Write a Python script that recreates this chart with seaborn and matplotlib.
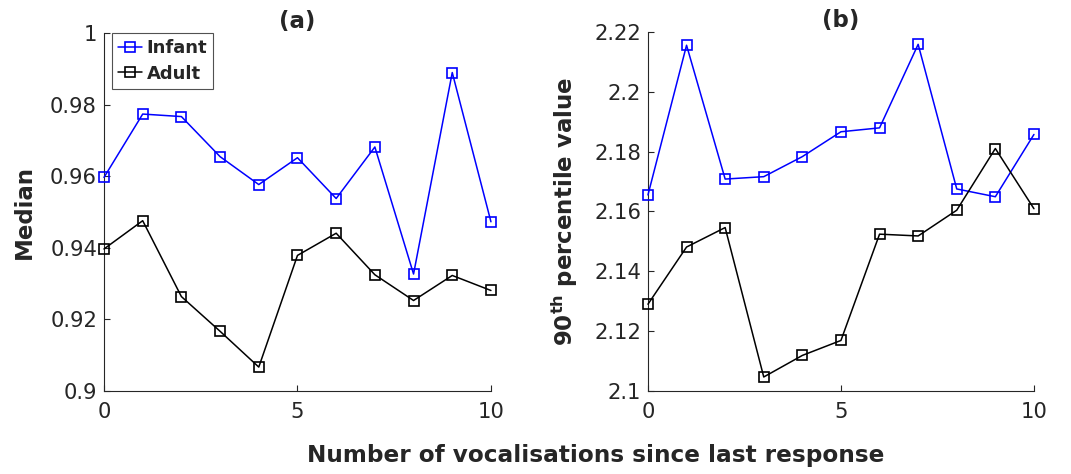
import matplotlib
matplotlib.use("Agg")
import matplotlib.pyplot as plt
import seaborn as sns
import pandas as pd

x_vals = [0, 1, 2, 3, 4, 5, 6, 7, 8, 9, 10]
median_infant = [0.9597, 0.9774, 0.9767, 0.9655, 0.9577, 0.9652, 0.9538, 0.9682, 0.9327, 0.9890, 0.9473]
median_adult = [0.9397, 0.9476, 0.9264, 0.9167, 0.9067, 0.9379, 0.9441, 0.9325, 0.9253, 0.9323, 0.9281]
p90_infant = [2.1655, 2.2155, 2.1708, 2.1716, 2.1783, 2.1866, 2.1879, 2.2158, 2.1675, 2.1649, 2.1857]
p90_adult = [2.1290, 2.1481, 2.1546, 2.1047, 2.1119, 2.1169, 2.1524, 2.1518, 2.1604, 2.1810, 2.1609]

series_names = ["Infant", "Adult"]
series_colors = ["#0000ff", "#000000"]

a_yticks = [0.9, 0.92, 0.94, 0.96, 0.98, 1.0]
a_ylabels = ["0.9", "0.92", "0.94", "0.96", "0.98", "1"]
b_yticks = [2.1, 2.12, 2.14, 2.16, 2.18, 2.2, 2.22]
b_ylabels = ["2.1", "2.12", "2.14", "2.16", "2.18", "2.2", "2.22"]
xticks = [0, 5, 10]

sns.set_style("white")
plt.rcParams["font.family"] = ["DejaVu Sans"]
plt.rcParams["mathtext.fontset"] = "dejavusans"

fig = plt.figure(figsize=(10.71, 4.74), dpi=100)
axA = fig.add_axes([0.0971, 0.175, 0.3613, 0.755])
axB = fig.add_axes([0.605, 0.175, 0.3604, 0.758])

axis_color = "#262626"

def draw(ax, infant, adult, yticks, ylabels, ylabel, title, legend):
    df = pd.DataFrame({"x": x_vals * 2,
                       "y": infant + adult,
                       "group": [series_names[0]] * len(x_vals) + [series_names[1]] * len(x_vals)})
    for name, col in zip(series_names, series_colors):
        sub = df[df["group"] == name]
        sns.lineplot(data=sub, x="x", y="y", ax=ax, color=col, marker="s",
                     markersize=7.3, markerfacecolor="none", markeredgecolor=col,
                     markeredgewidth=1.2, linewidth=1.1, label=name, legend=legend,
                     clip_on=False, zorder=3)
    ax.set_xlim(0, 10)
    ax.set_ylim(yticks[0], yticks[-1])
    ax.set_xticks(xticks)
    ax.set_xticklabels([str(t) for t in xticks])
    ax.set_yticks(yticks)
    ax.set_yticklabels(ylabels)
    ax.tick_params(direction="in", length=4, width=0.8, colors=axis_color,
                   labelsize=15.2, left=True, bottom=True)
    ax.tick_params(axis="x", pad=8)
    ax.tick_params(axis="y", pad=5)
    for s in ["top", "right"]:
        ax.spines[s].set_visible(False)
    for s in ["left", "bottom"]:
        ax.spines[s].set_color(axis_color)
        ax.spines[s].set_linewidth(0.8)
    ax.set_xlabel("")
    ax.set_ylabel(ylabel, fontsize=16.5, fontweight="bold", color=axis_color, labelpad=10)
    ax.set_title(title, fontsize=16.5, fontweight="bold", pad=3.5)
    if legend:
        leg = ax.legend(loc="upper left", bbox_to_anchor=(0.02, 1.0), frameon=True,
                        fancybox=False, edgecolor="#262626",
                        prop={"weight": "bold", "size": 13}, handlelength=1.35,
                        handletextpad=0.25, borderpad=0.33, labelspacing=0.42,
                        borderaxespad=0.0)
        leg.get_frame().set_linewidth(0.8)
    else:
        if ax.get_legend() is not None:
            ax.get_legend().remove()

draw(axA, median_infant, median_adult, a_yticks, a_ylabels, "Median", "(a)", True)
draw(axB, p90_infant, p90_adult, b_yticks, b_ylabels,
     r"$\mathbf{90^{th}}$ percentile value", "(b)", False)

fig.text(0.556, 0.038, "Number of vocalisations since last response", ha="center", va="center",
         fontsize=16.7, fontweight="bold", color=axis_color)

fig.savefig("out.png", dpi=100)
